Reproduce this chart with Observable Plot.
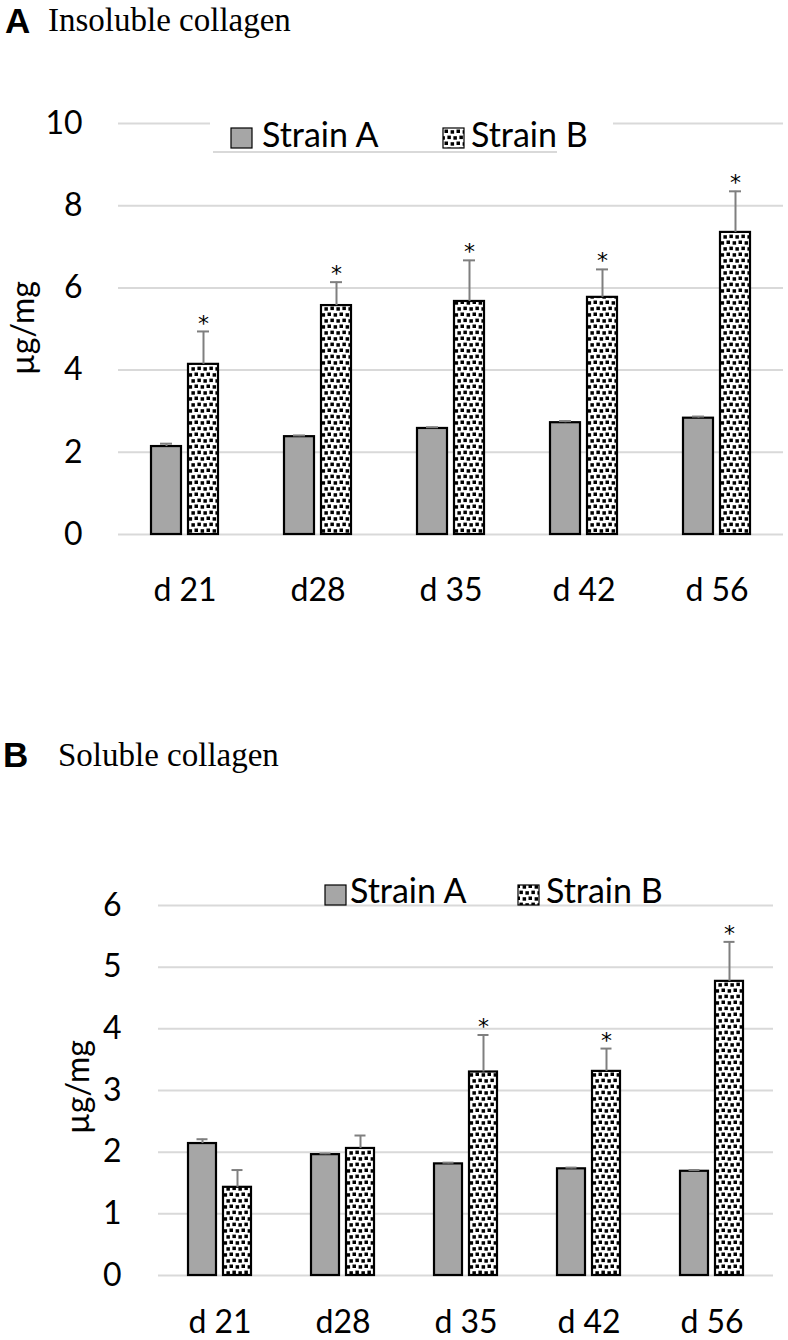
<!DOCTYPE html>
<html><head><meta charset="utf-8">
<script src="https://cdn.jsdelivr.net/npm/d3@7"></script>
<script src="https://cdn.jsdelivr.net/npm/@observablehq/plot@0.6"></script>
<style>
body{margin:0;background:#fff;}
#page{position:relative;width:788px;height:1340px;overflow:hidden;font-family:Lato,sans-serif;background:#fff;}
.abs{position:absolute;white-space:nowrap;}
.letter{font-family:"Liberation Sans",Arial,sans-serif;font-weight:bold;font-size:35px;line-height:35px;color:#000;}
.ptitle{font-family:"Liberation Serif","Times New Roman",serif;font-size:33px;line-height:33px;color:#000;}
.ylab{font-family:Lato,sans-serif;font-size:32px;line-height:32px;transform:translate(-50%,-50%) rotate(-90deg);color:#000;}
.plot{position:absolute;left:0;}
</style></head>
<body><div id="page">
<svg width="0" height="0" style="position:absolute;left:0;top:0">
<defs>
<pattern id="dots" patternUnits="userSpaceOnUse" width="12" height="12">
<rect width="12" height="12" fill="#fff"/>
<rect x="0.5" y="0.5" width="3.5" height="3.5" fill="#000"/>
<rect x="6.6" y="1.2" width="3.5" height="3.5" fill="#000"/>
<rect x="3.4" y="6.6" width="3.5" height="3.5" fill="#000"/>
<rect x="9.4" y="7.2" width="3.5" height="3.5" fill="#000"/>
<rect x="-2.6" y="7.2" width="3.5" height="3.5" fill="#000"/>
</pattern>
</defs></svg>
</div>
<script>
// ---- data ----
const days = ["d 21", "d28", "d 35", "d 42", "d 56"];
const strains = ["Strain A", "Strain B"];
// Panel A: insoluble collagen (µg/mg)
const insolubleA = [2.14, 2.38, 2.58, 2.72, 2.83];
const insolubleAErr = [0.07, 0.03, 0.03, 0.04, 0.04];
const insolubleB = [4.14, 5.57, 5.67, 5.77, 7.35];
const insolubleBErr = [0.80, 0.57, 1.00, 0.68, 1.00];
const insolubleSigB = [true, true, true, true, true];
const yTicksA = [0, 2, 4, 6, 8, 10];
// Panel B: soluble collagen (µg/mg)
const solubleA = [2.14, 1.96, 1.81, 1.73, 1.69];
const solubleAErr = [0.07, 0.02, 0.02, 0.02, 0.02];
const solubleB = [1.43, 2.06, 3.30, 3.31, 4.77];
const solubleBErr = [0.28, 0.21, 0.60, 0.37, 0.64];
const solubleSigB = [false, false, true, true, true];
const yTicksB = [0, 1, 2, 3, 4, 5, 6];

const page = document.getElementById("page");

function rows(a, aErr, b, bErr, sigB) {
  const out = [];
  days.forEach((d, i) => {
    out.push({day: d, strain: strains[0], value: a[i], err: aErr[i], sig: false});
    out.push({day: d, strain: strains[1], value: b[i], err: bErr[i], sig: sigB[i]});
  });
  return out;
}

function panel(data, yTicks, opts) {
  const chart = Plot.plot({
    width: 788, height: opts.height,
    marginLeft: opts.ml, marginRight: opts.mr, marginTop: opts.mt, marginBottom: opts.mb,
    style: {fontFamily: "Lato, sans-serif", fontSize: "32px", color: "#000", background: "transparent", overflow: "visible"},
    fx: {domain: days, padding: 0, label: null, axis: "bottom", tickSize: 0, tickPadding: opts.xpad},
    x: {domain: strains, axis: null, paddingInner: opts.pi, paddingOuter: opts.po},
    y: {domain: [yTicks[0], yTicks[yTicks.length - 1]], ticks: yTicks, tickSize: 0, tickPadding: opts.ypad, label: null, tickFormat: d => String(d)},
    marks: [
      Plot.ruleY(yTicks, {stroke: "#d9d9d9", strokeWidth: 2}),
      Plot.barY(data.filter(d => d.strain === strains[0]), {fx: "day", x: "strain", y: "value", fill: "#a6a6a6", stroke: "#000", strokeWidth: 2.2}),
      Plot.barY(data.filter(d => d.strain === strains[1]), {fx: "day", x: "strain", y: "value", fill: "url(#dots)", stroke: "#000", strokeWidth: 2.2}),
      Plot.ruleX(data, {fx: "day", x: "strain", y1: "value", y2: d => d.value + d.err, stroke: "#7f7f7f", strokeWidth: 2}),
      Plot.tickY(data, {fx: "day", x: "strain", y: d => d.value + d.err, stroke: "#7f7f7f", strokeWidth: 2, insetLeft: opts.capInset, insetRight: opts.capInset}),
      Plot.text(data.filter(d => d.sig), {fx: "day", x: "strain", y: d => d.value + d.err, text: () => "*", fontFamily: "DejaVu Sans, sans-serif", fontSize: 22, dy: -8, fill: "#000"})
    ]
  });
  chart.classList.add("plot");
  chart.style.top = opts.top + "px";
  page.appendChild(chart);
}

panel(rows(insolubleA, insolubleAErr, insolubleB, insolubleBErr, insolubleSigB), yTicksA,
  {top: 0, height: 640, ml: 116, mr: 3, mt: 123, mb: 106, xpad: 44, ypad: 36, pi: 0.18, po: 0.86, capInset: 9});
panel(rows(solubleA, solubleAErr, solubleB, solubleBErr, solubleSigB), yTicksB,
  {top: 700, height: 640, ml: 157, mr: 14, mt: 205, mb: 65, xpad: 35, ypad: 37, pi: 0.19, po: 0.81, capInset: 8.5});

// ---- titles, axis labels, legends ----
function div(cls, text, left, top) {
  const e = document.createElement("div");
  e.className = "abs " + cls;
  e.textContent = text;
  e.style.left = left + "px";
  e.style.top = top + "px";
  page.appendChild(e);
  return e;
}
div("letter", "A", 5, 3.4);
div("ptitle", "Insoluble collagen", 48, 4.4);
div("letter", "B", 3, 737.4);
div("ptitle", "Soluble collagen", 58, 739.4);
div("ylab", "µg/mg", 22, 328);
div("ylab", "µg/mg", 77, 1087);

function legend(top, items, extra) {
  const svg = d3.create("svg").attr("width", 788).attr("height", 50)
    .style("position", "absolute").style("left", "0px").style("top", top + "px");
  if (extra) extra(svg);
  for (const it of items) {
    svg.append("rect").attr("x", it.sx).attr("y", it.sy).attr("width", 21).attr("height", 20)
      .attr("fill", it.fill).attr("stroke", "#000").attr("stroke-width", 1.2);
    svg.append("text").attr("x", it.tx).attr("y", it.ty).text(it.label)
      .attr("font-family", "Lato, sans-serif").attr("font-size", 34).attr("fill", "#000");
  }
  page.appendChild(svg.node());
}
legend(105, [
  {sx: 231, sy: 23, tx: 262, ty: 42, fill: "#a6a6a6", label: strains[0]},
  {sx: 443, sy: 23, tx: 471, ty: 42, fill: "url(#dots)", label: strains[1]}
], svg => {
  svg.append("rect").attr("x", 210).attr("y", 7).attr("width", 403).attr("height", 38).attr("fill", "#fff");
  svg.append("line").attr("x1", 213).attr("x2", 557).attr("y1", 47).attr("y2", 47).attr("stroke", "#d9d9d9").attr("stroke-width", 2);
});
legend(860, [
  {sx: 325, sy: 25, tx: 350, ty: 43, fill: "#a6a6a6", label: strains[0]},
  {sx: 518, sy: 25, tx: 546, ty: 43, fill: "url(#dots)", label: strains[1]}
]);
</script>
</body></html>
